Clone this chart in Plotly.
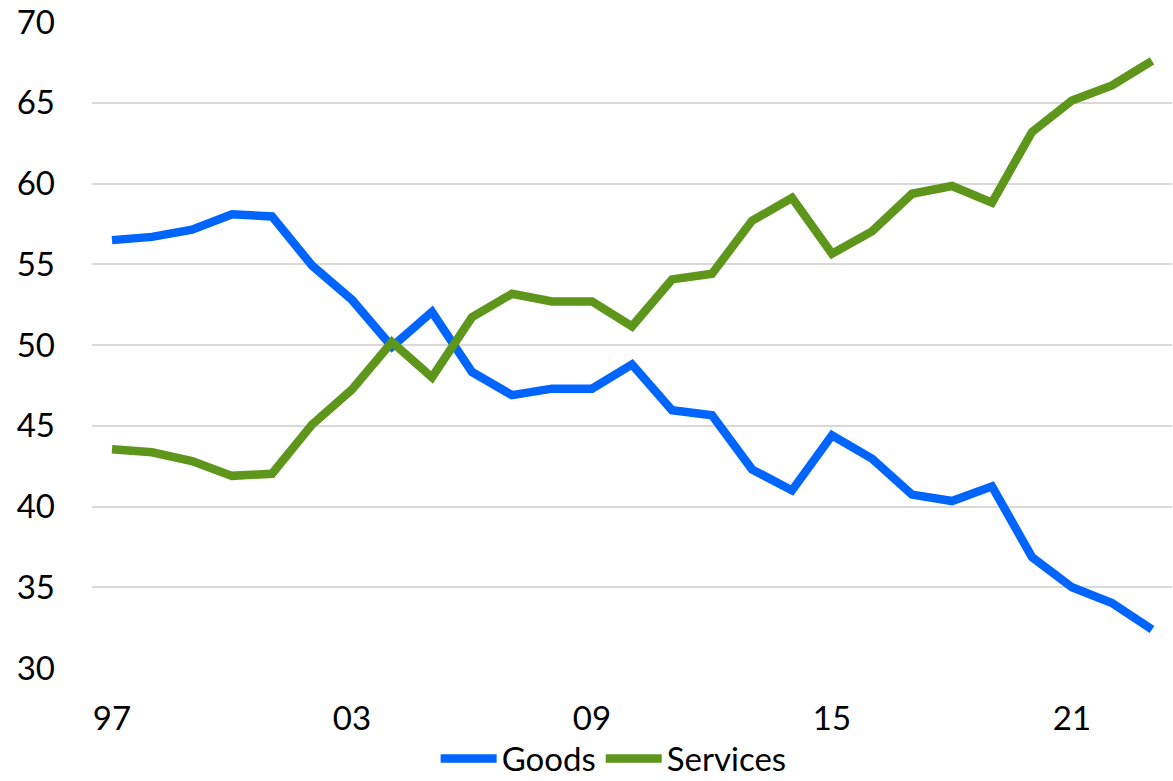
import plotly.graph_objects as go

years = list(range(1997, 2024))
goods = [56.5, 56.7, 57.15, 58.1, 57.97, 54.93, 52.8, 49.9, 52.06, 48.33, 46.9, 47.3, 47.3, 48.8,
         45.96, 45.65, 42.3, 41.0, 44.41, 42.97, 40.74, 40.34, 41.25, 36.87, 35.0, 34.03, 32.38]
services = [43.55, 43.36, 42.82, 41.9, 42.03, 45.07, 47.25, 50.19, 48.0, 51.73, 53.18, 52.7, 52.7, 51.16,
            54.07, 54.42, 57.7, 59.12, 55.66, 57.04, 59.37, 59.85, 58.82, 63.2, 65.15, 66.08, 67.6]
tick_years = [1997, 2003, 2009, 2015, 2021]
tick_labels = ["97", "03", "09", "15", "21"]
y_ticks = [30, 35, 40, 45, 50, 55, 60, 65, 70]

FONT = "Lato"

fig = go.Figure()
fig.add_trace(go.Scatter(x=years, y=goods, name="Goods", mode="lines",
                         line=dict(color="#0064FF", width=8.5)))
fig.add_trace(go.Scatter(x=years, y=services, name="Services", mode="lines",
                         line=dict(color="#5E961C", width=8.5)))

fig.update_layout(
    width=1173, height=781,
    margin=dict(l=92, r=1, t=22, b=113, autoexpand=False),
    paper_bgcolor="white", plot_bgcolor="white",
    font=dict(family=FONT, size=33, color="black"),
    showlegend=True,
    legend=dict(orientation="h", x=0.483, xanchor="center", y=-0.14, yanchor="middle",
                font=dict(family=FONT, size=33), itemwidth=56, traceorder="normal",
                bgcolor="rgba(0,0,0,0)"),
    xaxis=dict(range=[1996.5, 2023.5], tickvals=tick_years, ticktext=tick_labels,
               showgrid=False, zeroline=False, showline=False, ticks="",
               ticklabelstandoff=28, ticklabeloverflow="allow",
               tickfont=dict(family=FONT, size=33)),
    yaxis=dict(range=[30, 70.01], tickvals=y_ticks, showgrid=True, gridcolor="#d9d9d9",
               gridwidth=1.5, zeroline=False, showline=False, ticks="",
               ticklabelstandoff=36, ticklabeloverflow="allow",
               tickfont=dict(family=FONT, size=33)),
)

fig.write_html("out.html")
